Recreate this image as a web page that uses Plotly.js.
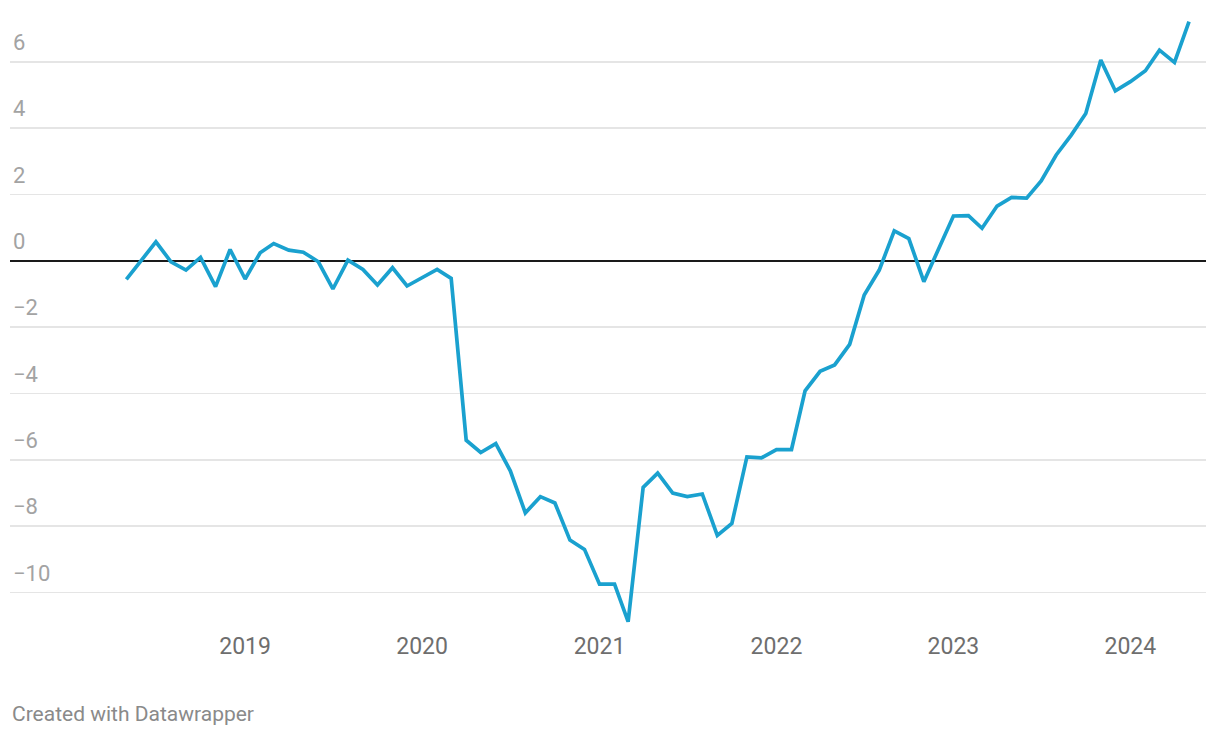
<!DOCTYPE html>
<html>
<head>
<meta charset="utf-8">
<script src="https://cdn.plot.ly/plotly-3.0.1.min.js"></script>
<style>
  html, body { margin: 0; padding: 0; background: #fff; }
  #chart { width: 1220px; height: 738px; }
</style>
</head>
<body>
<div id="chart"></div>
<script>
// monthly values, May 2018 .. May 2024
var startYear = 2018, startMonth = 5;
var values = [
  -0.56, 0.00, 0.57, -0.03, -0.28, 0.10, -0.78, 0.34,
  -0.55, 0.24, 0.52, 0.32, 0.26, -0.03, -0.85, 0.02, -0.26, -0.73, -0.21, -0.76,
  -0.50, -0.26, -0.53, -5.41, -5.78, -5.51, -6.33, -7.60, -7.11, -7.30, -8.42, -8.70,
  -9.75, -9.75, -10.88, -6.83, -6.40, -7.00, -7.11, -7.03, -8.28, -7.92, -5.91, -5.94,
  -5.69, -5.69, -3.92, -3.33, -3.14, -2.52, -1.03, -0.28, 0.90, 0.67, -0.63, 0.36,
  1.35, 1.36, 0.98, 1.65, 1.91, 1.89, 2.41, 3.19, 3.79, 4.44, 6.05, 5.12,
  5.40, 5.73, 6.35, 5.98, 7.21
];
var yTicks = [-10, -8, -6, -4, -2, 0, 2, 4, 6];
var xTicks = ['2019-01-01', '2020-01-01', '2021-01-01', '2022-01-01', '2023-01-01', '2024-01-01'];
var xTickLabels = ['2019', '2020', '2021', '2022', '2023', '2024'];

// build month dates
var dates = values.map(function (v, i) {
  var m = startMonth - 1 + i;
  var y = startYear + Math.floor(m / 12);
  var mm = (m % 12) + 1;
  return y + '-' + (mm < 10 ? '0' + mm : mm) + '-01';
});

var data = [{
  x: dates,
  y: values,
  type: 'scatter',
  mode: 'lines',
  line: {color: '#1aa1cf', width: 3.7},
  hoverinfo: 'x+y'
}];

var layout = {
  width: 1220,
  height: 738,
  margin: {l: 10, r: 14, t: 10, b: 108},
  paper_bgcolor: '#fff',
  plot_bgcolor: '#fff',
  showlegend: false,
  font: {family: 'Roboto, sans-serif'},
  xaxis: {
    type: 'date',
    range: ['2017-09-03', '2024-06-05'],
    tickvals: xTicks,
    ticktext: xTickLabels,
    showgrid: false,
    zeroline: false,
    showline: false,
    ticks: '',
    tickfont: {size: 23, color: '#6e6e6e'}
  },
  yaxis: {
    range: [-11.13, 7.56],
    tickvals: yTicks,
    ticktext: yTicks.map(function (t) { return String(t).replace('-', '\u2212'); }),
    ticklabelposition: 'inside top',
    ticklabelshift: -4,
    showgrid: true,
    gridcolor: '#e5e5e5',
    gridwidth: 1.5,
    zeroline: true,
    zerolinecolor: '#1a1a1a',
    zerolinewidth: 2,
    showline: false,
    ticks: '',
    tickfont: {size: 22, color: '#a3a3a3'}
  },
  annotations: [{
    text: 'Created with Datawrapper',
    xref: 'paper', yref: 'paper',
    x: 0, y: -0.135,
    xanchor: 'left', yanchor: 'middle',
    showarrow: false,
    font: {size: 21, color: '#8a8a8a'}
  }]
};

Plotly.newPlot('chart', data, layout, {displayModeBar: false, staticPlot: true});
</script>
</body>
</html>
